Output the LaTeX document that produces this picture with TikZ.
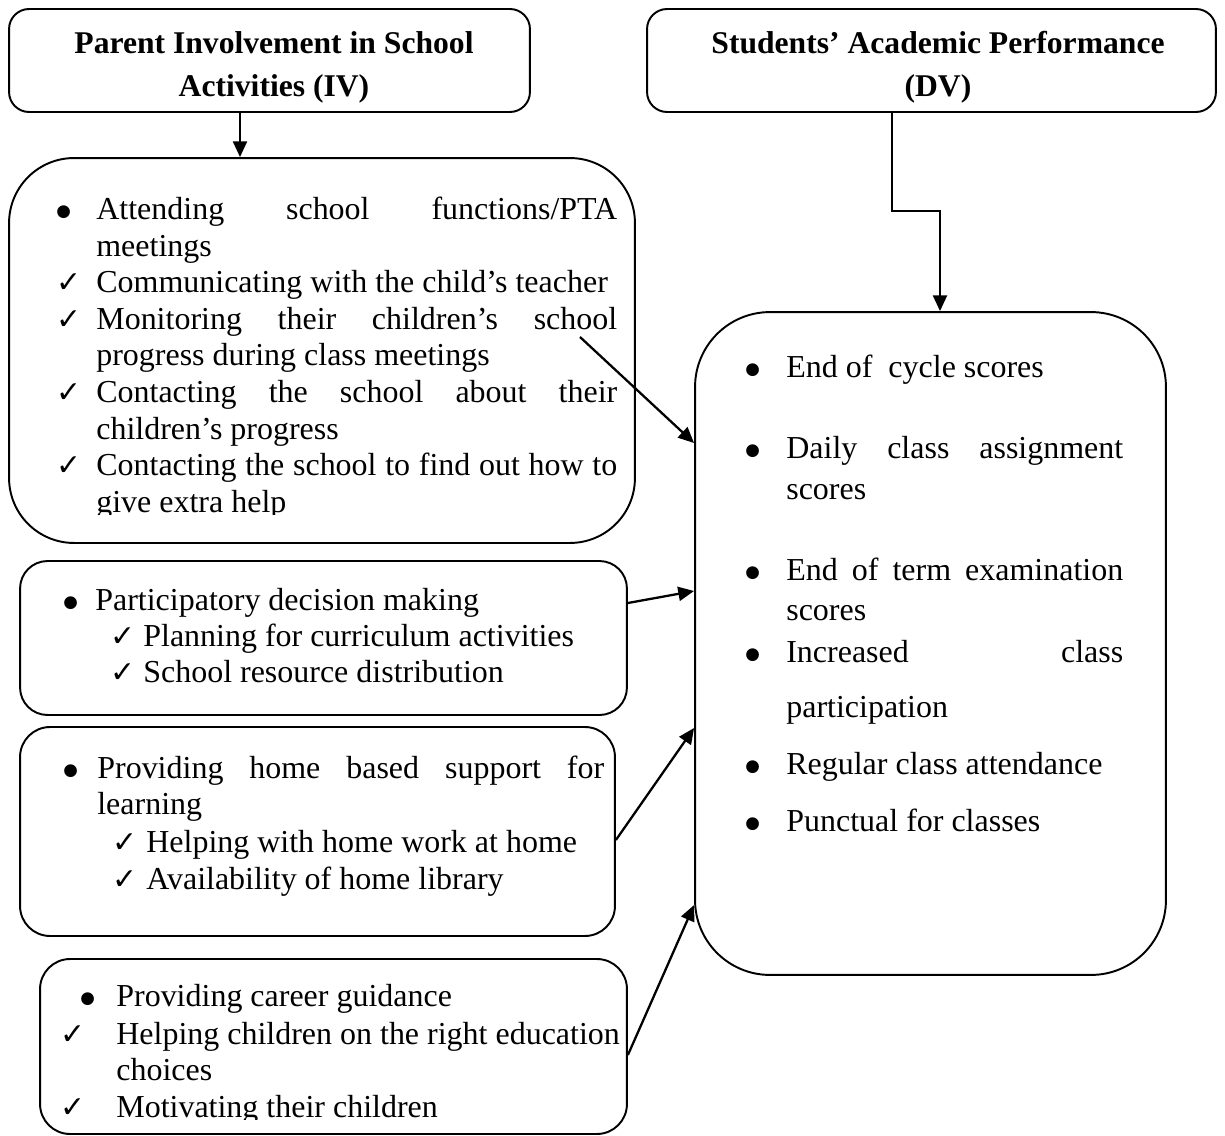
\documentclass[tikz,border=0pt]{standalone}
\usepackage{fontspec}
\setmainfont{Liberation Serif}
\newfontfamily\symfont{DejaVu Sans}
\usetikzlibrary{arrows.meta, positioning, calc}

\newcommand{\bul}{\raisebox{1.6pt}{\symfont\fontsize{9.5}{9.5}\selectfont ●}}
\newcommand{\chk}{{\symfont\fontsize{17}{17}\selectfont ✓}}
\newcommand{\mk}[2]{\makebox[#1][l]{#2}}
\newcommand{\jl}[2]{\makebox[#1][s]{#2}}

\tikzset{
  box/.style={draw, line width=1.1pt, inner sep=0pt},
  title/.style={font=\fontsize{18}{24.4}\selectfont\bfseries, align=center, inner sep=0pt},
  txt/.style={anchor=base west, inner sep=0pt, font=\fontsize{18.2}{21}\selectfont},
  arr/.style={-{Triangle[length=9pt,width=8pt]}, line width=1.3pt},
}

\begin{document}
\begin{tikzpicture}[x=0.02cm, y=-0.02cm]
        \useasboundingbox (0,0) rectangle (1225,1136);

        % headings
        \node[box, rounded corners=0.4cm, minimum width=10.42cm, minimum height=2.06cm] (iv) at (269.5,60.5) {};
        \node[box, rounded corners=0.4cm, minimum width=11.38cm, minimum height=2.06cm] (dv) at (931.5,60.5) {};
        \node[title] (ivt) at (274,67) {Parent Involvement in School\\Activities (IV)};
        \node[title] (dvt) at (938,67) {Students’ Academic Performance\\(DV)};

        % boxes
        \node[box, rounded corners=1.3cm, minimum width=12.52cm, minimum height=7.7cm] (act1) at (322,350.5) {};
        \node[box, rounded corners=0.55cm, minimum width=12.14cm, minimum height=3.08cm] (act2) at (323.5,638) {};
        \node[box, rounded corners=0.6cm, minimum width=11.9cm, minimum height=4.18cm] (act3) at (317.5,831.5) {};
        \node[box, rounded corners=0.6cm, minimum width=11.74cm, minimum height=3.5cm] (act4) at (333.5,1046.5) {};
        \node[box, rounded corners=1.5cm, minimum width=9.42cm, minimum height=13.26cm] (perf) at (930.5,643.5) {};

        % school activities
        \node[txt] (a1) at (56,219) {\mk{0.8cm}{\bul}\jl{10.42cm}{Attending school functions/PTA}};
        \node[txt] (a2) at (96,256) {meetings};
        \node[txt] (a3) at (56,292) {\mk{0.8cm}{\chk}Communicating with the child’s teacher};
        \node[txt] (a4) at (56,329) {\mk{0.8cm}{\chk}\jl{10.42cm}{Monitoring their children’s school}};
        \node[txt] (a5) at (96,365) {progress during class meetings};
        \node[txt] (a6) at (56,402) {\mk{0.8cm}{\chk}\jl{10.42cm}{Contacting the school about their}};
        \node[txt] (a7) at (96,439) {children’s progress};
        \node[txt] (a8) at (56,475) {\mk{0.8cm}{\chk}\jl{10.42cm}{Contacting the school to find out how to}};
        \begin{scope}
          \clip (0,0) rectangle (1225,514);
          \node[txt] (a9) at (96,512) {give extra help};
        \end{scope}

        % decision making
        \node[txt] (b1) at (63,610) {\mk{0.64cm}{\bul}Participatory decision making};
        \node[txt] (b2) at (110,646) {\mk{0.66cm}{\chk}Planning for curriculum activities};
        \node[txt] (b3) at (110,682) {\mk{0.66cm}{\chk}School resource distribution};

        % home support
        \node[txt] (c1) at (63,778) {\mk{0.68cm}{\bul}\jl{10.14cm}{Providing home based support for}};
        \node[txt] (c2) at (97,814) {learning};
        \node[txt] (c3) at (112,852) {\mk{0.68cm}{\chk}Helping with home work at home};
        \node[txt] (c4) at (112,889) {\mk{0.68cm}{\chk}Availability of home library};

        % career guidance
        \node[txt] (d1) at (80,1006) {\mk{0.72cm}{\bul}Providing career guidance};
        \node[txt] (d2) at (60,1044) {\mk{1.12cm}{\chk}Helping children on the right education};
        \node[txt] (d3) at (116,1080) {choices};
        \begin{scope}
          \clip (0,0) rectangle (1225,1119);
          \node[txt] (d4) at (60,1117) {\mk{1.12cm}{\chk}Motivating their children};
        \end{scope}

        % performance
        \node[txt] (p1) at (745,377) {\mk{0.82cm}{\bul}End of~ cycle scores};
        \node[txt] (p2) at (745,458) {\mk{0.82cm}{\bul}\jl{6.74cm}{Daily class assignment}};
        \node[txt] (p3) at (786,499) {scores};
        \node[txt] (p4) at (745,580) {\mk{0.82cm}{\bul}\jl{6.74cm}{End of term examination}};
        \node[txt] (p5) at (786,620) {scores};
        \node[txt] (p6) at (745,662) {\mk{0.82cm}{\bul}\jl{6.74cm}{Increased class}};
        \node[txt] (p7) at (786,717) {participation};
        \node[txt] (p8) at (745,774) {\mk{0.82cm}{\bul}Regular class attendance};
        \node[txt] (p9) at (745,831) {\mk{0.82cm}{\bul}Punctual for classes};

        % arrows
        \coordinate (s1) at (580,337);
        \draw[arr] (iv.south -| 240,0) -- (act1.north -| 240,0);
        \draw[arr] (dv.south -| 892,0) |- (940,211) -- (perf.north -| 940,0);
        \draw[arr] (s1) -- (perf.west |- 0,443);
        \draw[arr] (act2.east |- 0,603) -- (perf.west |- 0,591);
        \draw[arr] (act3.east |- 0,840) -- (perf.west |- 0,728);
        \draw[arr] (act4.east |- 0,1055) -- (perf.west |- 0,905);

\end{tikzpicture}
\end{document}
